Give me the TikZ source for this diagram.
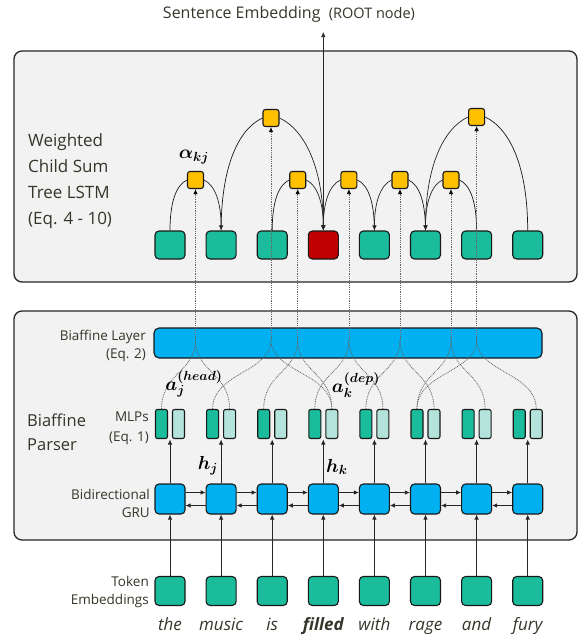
\documentclass[tikz,border=0pt]{standalone}
\usepackage{fix-cm}
\usepackage{fontspec}
\setmainfont{Open Sans}
\usepackage{bm}
\usetikzlibrary{arrows.meta}
\definecolor{tealc}{HTML}{1ABC9C}
\definecolor{mintc}{HTML}{B3E3DA}
\definecolor{bluec}{HTML}{00B0F0}
\definecolor{yellowc}{HTML}{FFC000}
\definecolor{redc}{HTML}{C00000}
\definecolor{panelc}{HTML}{F2F2F2}
\definecolor{textc}{HTML}{35352A}
\tikzset{
  panel/.style={draw=black!85, line width=1.3pt, rounded corners=8pt, fill=panelc},
  rbox/.style={draw=black!90, line width=1.1pt, rounded corners=4pt, inner sep=0pt},
  tokbox/.style={rbox, fill=tealc, minimum width=30pt, minimum height=29pt},
  grubox/.style={rbox, fill=bluec, minimum width=30pt, minimum height=30pt},
  treebox/.style={rbox, minimum width=30pt, minimum height=28pt},
  mlpdark/.style={rbox, rounded corners=2pt, fill=tealc, minimum width=12pt, minimum height=29pt},
  mlplight/.style={rbox, rounded corners=2pt, fill=mintc, minimum width=12pt, minimum height=29pt},
  ybox/.style={rbox, rounded corners=2.5pt, fill=yellowc, minimum width=16pt, minimum height=17pt},
  arr/.style={-{Latex[length=5pt,width=4.5pt]}, line width=0.7pt, draw=black!85},
  tarc/.style={line width=0.7pt, draw=black!90},
  upleg/.style={out looseness=1.3, in looseness=0.6},
  dnleg/.style={out looseness=0.6, in looseness=1.3},
  dotl/.style={draw=black!60, line width=0.8pt, dash pattern=on 0.9pt off 0.9pt},
  dotarr/.style={dotl, -{Latex[length=5pt,width=4.5pt,color=black]}},
  lbl/.style={text=textc, inner sep=0pt},
  small/.style={lbl, font=\fontsize{13.5}{18}\selectfont, align=right, anchor=east},
  word/.style={lbl, font=\fontsize{17}{20}\selectfont\itshape},
  mth/.style={lbl, font=\fontsize{14}{16}\selectfont, text=black, scale=1.35, transform shape}
}
\begin{document}
\begin{tikzpicture}[x=1pt,y=1pt]
\useasboundingbox (0,0) rectangle (580,-637);
% panels
\draw[panel] (14,-51) rectangle (577,-282);
\draw[panel] (14,-311) rectangle (577,-540);
% title
\node[lbl, anchor=base] (title) at (289,-19) {\fontsize{16}{18}\selectfont Sentence Embedding\ \ \fontsize{14.5}{18}\selectfont(ROOT node)};
\coordinate (se) at (323.3,-32);
% columns
\foreach \x [count=\i] in {170,221.1,272.2,323.3,374.4,425.5,476.6,527.7} {
  \node[tokbox] (tok\i) at (\x,-591) {};
  \node[grubox] (gru\i) at (\x,-499) {};
  \node[mlpdark] (md\i) at (\x-8.5,-424) {};
  \node[mlplight] (ml\i) at (\x+8.5,-424) {};
  \coordinate (mt\i) at (\x,-439.5);
  \draw[arr] (tok\i.north) -- (gru\i.south);
  \draw[arr] (gru\i.north) -- (mt\i);
}
\foreach \x/\c [count=\i] in {170/tealc,221.1/tealc,272.2/tealc,323.3/redc,374.4/tealc,425.5/tealc,476.6/tealc,527.7/tealc} {
  \node[treebox, fill=\c] (tr\i) at (\x,-245) {};
}
\foreach \i [count=\j from 2] in {1,...,7} {
  \draw[arr] ([yshift=6.5pt]gru\i.east) -- ([yshift=6.5pt]gru\j.west);
  \draw[arr] ([yshift=-6.5pt]gru\j.west) -- ([yshift=-6.5pt]gru\i.east);
}
% words
\foreach \x/\w in {170/the,221.1/music,272.2/is,323.3/{\bfseries filled},374.4/with,425.5/rage,476.6/and,527.7/fury} {
  \node[word, anchor=base] at (\x,-630) {\w};
}
% biaffine layer
\node[rbox, fill=bluec, minimum width=388pt, minimum height=30pt, rounded corners=5pt] (biaf) at (348,-343) {};
% yellow nodes
\node[ybox] (ya) at (195.5,-180) {};
\node[ybox] (yb) at (271,-118) {};
\node[ybox] (yc) at (297.7,-180) {};
\node[ybox] (yd) at (348.9,-180) {};
\node[ybox] (ye) at (400,-180) {};
\node[ybox] (yf) at (451,-180) {};
\node[ybox] (yg) at (476.6,-117) {};
% tree arcs
\draw[tarc] (tr1.north) to[out=90,in=205,upleg] (ya.west);
\draw[tarc,arr] (ya.east) to[out=-25,in=90,dnleg] (tr2.north);
\draw[tarc] (tr2.north) to[out=90,in=205,upleg] (yb.west);
\draw[tarc,arr] (yb.east) to[out=-25,in=90,dnleg] (tr4.north);
\draw[tarc] (tr3.north) to[out=90,in=205,upleg] (yc.west);
\draw[tarc,arr] (yc.east) to[out=-25,in=90,dnleg] (tr4.north);
\draw[tarc] (tr5.north) to[out=90,in=-25,upleg] (yd.east);
\draw[tarc,arr] (yd.west) to[out=205,in=90,dnleg] (tr4.north);
\draw[tarc] (tr6.north) to[out=90,in=-25,upleg] (ye.east);
\draw[tarc,arr] (ye.west) to[out=205,in=90,dnleg] (tr5.north);
\draw[tarc] (tr7.north) to[out=90,in=-25,upleg] (yf.east);
\draw[tarc,arr] (yf.west) to[out=205,in=90,dnleg] (tr6.north);
\draw[tarc] (tr8.north) to[out=90,in=-25,upleg] (yg.east);
\draw[tarc,arr] (yg.west) to[out=205,in=90,dnleg] (tr6.north);
\draw[arr] (tr4.north) -- (se);
% dotted biaffine connections
\coordinate (lev) at (0,-340);
\foreach \y/\a/\b in {ya/md1/ml2, yb/md2/ml4, yc/md3/ml4, yd/md4/ml5, ye/md5/ml6, yf/md6/ml7, yg/md6/ml8} {
  \coordinate (cv) at (\y.south |- lev);
  \draw[dotl] (\a.north) .. controls +(0,36) and +(0,-32) .. (cv);
  \draw[dotl] (\b.north) .. controls +(0,36) and +(0,-32) .. (cv);
  \draw[dotarr] (cv) -- (\y.south);
}
% labels
\node[lbl, font=\fontsize{17}{26}\selectfont, align=left, anchor=west] at (28,-181) {Weighted\\Child Sum\\Tree LSTM\\(Eq. 4 - 10)};
\node[lbl, font=\fontsize{16.5}{24}\selectfont, align=left, anchor=west] at (27,-432) {Biaffine\\Parser};
\node[small] at (146,-346) {Biaffine Layer\\(Eq. 2)};
\node[small, font=\fontsize{13.5}{20}\selectfont] at (149,-428) {MLPs\\(Eq. 1)};
\node[small] at (150,-503) {Bidirectional\\GRU};
\node[small] at (149,-592) {Token\\Embeddings};
% math labels
\node[mth] at (194,-157) {$\bm{\alpha_{kj}}$};
\node[mth] at (208,-466) {$\bm{h_j}$};
\node[mth] at (337,-467) {$\bm{h_k}$};
\node[mth] at (194,-384) {$\bm{a_j^{(head)}}$};
\node[mth] at (356,-385) {$\bm{a_k^{(dep)}}$};
\end{tikzpicture}
\end{document}
